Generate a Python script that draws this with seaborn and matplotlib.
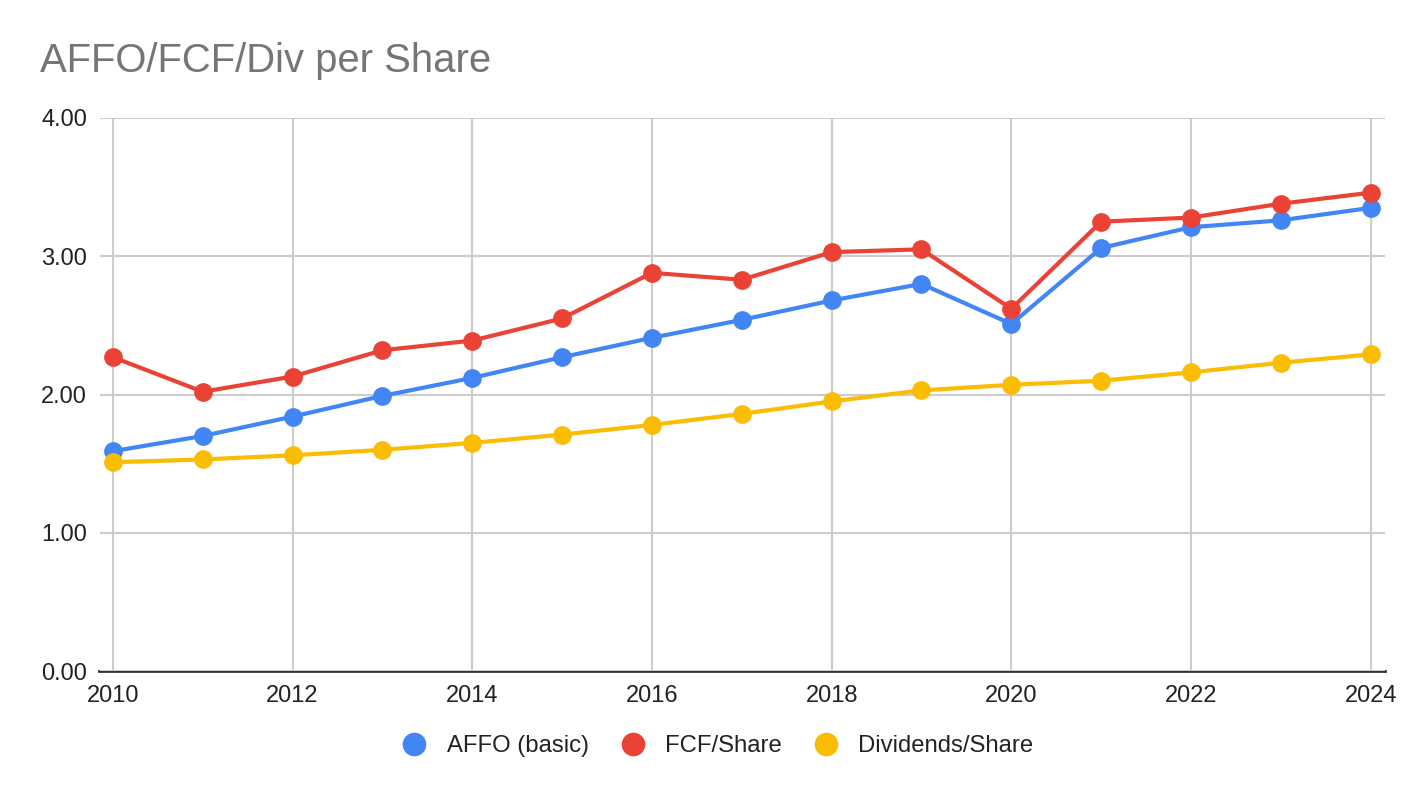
import matplotlib
matplotlib.use("Agg")
import matplotlib.pyplot as plt
import pandas as pd
import seaborn as sns
from matplotlib.lines import Line2D

years = list(range(2010, 2025))
affo = [1.59, 1.70, 1.84, 1.99, 2.12, 2.27, 2.41, 2.54, 2.68, 2.80, 2.51, 3.06, 3.21, 3.26, 3.35]
fcf = [2.27, 2.02, 2.13, 2.32, 2.39, 2.55, 2.88, 2.83, 3.03, 3.05, 2.62, 3.25, 3.28, 3.38, 3.46]
divs = [1.51, 1.53, 1.56, 1.60, 1.65, 1.71, 1.78, 1.86, 1.95, 2.03, 2.07, 2.10, 2.16, 2.23, 2.29]
series_names = ["AFFO (basic)", "FCF/Share", "Dividends/Share"]
colors = ["#4285F4", "#EA4335", "#FBBC04"]
y_ticks = [0, 1, 2, 3, 4]
x_ticks = list(range(2010, 2025, 2))

df = pd.DataFrame({"Year": years, series_names[0]: affo, series_names[1]: fcf, series_names[2]: divs})
long_df = df.melt(id_vars="Year", var_name="Series", value_name="Value")

sns.set_theme(style="whitegrid")
plt.rcParams["font.family"] = ["Liberation Sans", "DejaVu Sans"]

fig = plt.figure(figsize=(14.24, 7.98), dpi=100)
ax = fig.add_axes([99.5 / 1424, 1 - 671 / 798, 1285.5 / 1424, 553 / 798])

sns.lineplot(
    data=long_df, x="Year", y="Value", hue="Series", hue_order=series_names,
    palette=colors, marker="o", markersize=13.5, markeredgewidth=0,
    linewidth=3, ax=ax, legend=False,
)

ax.set_xlim(2010 - 13.4 / 89.86, 2024 + 14.3 / 89.86)
ax.set_ylim(0, 4)
ax.set_xticks(x_ticks)
ax.set_xticklabels([str(x) for x in x_ticks])
ax.set_yticks(y_ticks)
ax.set_yticklabels([f"{v:.2f}" for v in y_ticks])
ax.tick_params(axis="both", labelsize=17, colors="#222222", length=0)
ax.tick_params(axis="y", pad=9)
ax.tick_params(axis="x", pad=10)
ax.set_xlabel("")
ax.set_ylabel("")
ax.grid(True, color="#cccccc", linewidth=1.5)
ax.set_facecolor("white")
for side in ["left", "right", "top"]:
    ax.spines[side].set_visible(False)
ax.spines["bottom"].set_color("#333333")
ax.spines["bottom"].set_linewidth(2)
ax.spines["bottom"].set_zorder(0.5)

fig.text(40 / 1424, 1 - 61 / 798, "AFFO/FCF/Div per Share", fontsize=28.8,
         color="#757575", va="center", ha="left")

handles = [Line2D([0], [0], marker="o", linestyle="none", markersize=17,
                  markerfacecolor=c, markeredgewidth=0) for c in colors]
fig.legend(handles, series_names, loc="center", bbox_to_anchor=(0.5, 1 - 746 / 798),
           ncol=3, frameon=False, fontsize=17.2, handletextpad=0.35, columnspacing=0.85,
           labelcolor="#222222")

fig.savefig("out.png", dpi=100, facecolor="white")
